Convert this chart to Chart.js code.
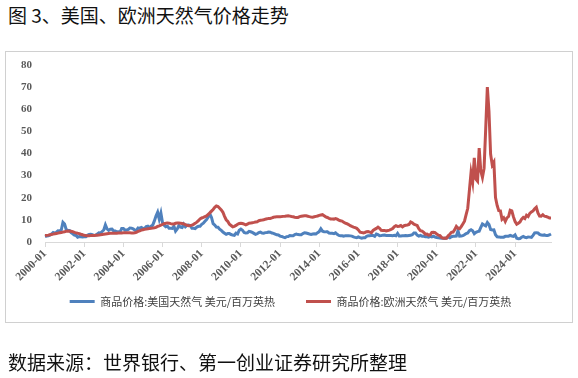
<!DOCTYPE html>
<html lang="zh-CN">
<head>
<meta charset="utf-8">
<title>图 3、美国、欧洲天然气价格走势</title>
<script src="https://cdn.jsdelivr.net/npm/chart.js@4.4.1/dist/chart.umd.min.js"></script>
<style>
    html, body { margin: 0; padding: 0; background: #fff; }
    body { width: 578px; height: 378px; position: relative; overflow: hidden; font-family: "Noto Sans CJK SC", sans-serif; color: #111; }
    .title { position: absolute; left: 8px; top: 5px; font-size: 19px; line-height: 20px; white-space: nowrap; }
    .source { position: absolute; left: 8px; top: 352px; font-size: 19px; line-height: 20px; white-space: nowrap; }
    .frame { position: absolute; left: 5px; top: 51px; width: 566px; height: 270px; border: 1px solid #d0d0d0; }
    #gasChart { position: absolute; left: 0; top: 0; }
</style>
</head>
<body>
<div class="title">图 3、美国、欧洲天然气价格走势</div>
<div class="frame"></div>
<canvas id="gasChart" width="578" height="378"></canvas>
<div class="source">数据来源：世界银行、第一创业证券研究所整理</div>
<script>
// monthly, 2000-01 .. 2025-11
const startYear = 2000;
const labelStep = 24;
const yTicks = [0, 10, 20, 30, 40, 50, 60, 70, 80];
const seriesNames = ["商品价格:美国天然气 美元/百万英热", "商品价格:欧洲天然气 美元/百万英热"];

const usGas = [
    2.42, 2.66, 2.79, 3.04, 3.59, 4.29, 3.99, 4.43, 5.06, 5.02, 5.52, 8.90,   // 2000
    8.17, 5.61, 5.23, 5.19, 4.19, 3.72, 3.11, 2.97, 2.19, 2.46, 2.34, 2.30,   // 2001
    2.32, 2.32, 3.03, 3.43, 3.50, 3.26, 2.99, 3.09, 3.55, 4.13, 4.04, 4.74,   // 2002
    5.43, 7.71, 5.93, 5.26, 5.81, 5.82, 5.03, 4.99, 4.62, 4.63, 4.47, 6.13,   // 2003
    6.14, 5.37, 5.39, 5.71, 6.33, 6.27, 5.93, 5.41, 5.15, 6.35, 6.17, 6.58,   // 2004
    6.15, 6.14, 6.96, 7.16, 6.47, 7.18, 7.63, 9.53, 11.75, 13.42, 10.30, 13.05, // 2005
    8.69, 7.54, 6.89, 7.16, 6.25, 6.21, 6.17, 7.14, 4.90, 5.85, 7.41, 6.73,   // 2006
    6.55, 8.00, 6.90, 7.55, 7.64, 7.35, 6.21, 6.24, 6.08, 6.74, 7.10, 7.11,   // 2007
    7.99, 8.54, 9.41, 10.18, 11.27, 12.69, 11.09, 8.26, 7.67, 6.74, 6.68, 5.82, // 2008
    5.24, 4.52, 4.00, 3.50, 3.83, 3.80, 3.38, 3.14, 2.99, 4.01, 3.66, 5.35,   // 2009
    5.83, 5.32, 4.29, 4.03, 4.14, 4.80, 4.63, 4.32, 3.89, 3.43, 3.71, 4.25,   // 2010
    4.49, 4.09, 3.97, 4.24, 4.31, 4.54, 4.42, 4.06, 3.90, 3.57, 3.24, 3.17,   // 2011
    2.67, 2.50, 2.17, 1.95, 2.43, 2.46, 2.95, 2.84, 2.85, 3.32, 3.54, 3.34,   // 2012
    3.33, 3.33, 3.81, 4.17, 4.04, 3.83, 3.62, 3.43, 3.62, 3.68, 3.64, 4.24,   // 2013
    4.71, 6.00, 4.90, 4.66, 4.58, 4.59, 4.05, 3.91, 3.92, 3.78, 4.12, 3.48,   // 2014
    2.99, 2.87, 2.83, 2.61, 2.85, 2.78, 2.84, 2.77, 2.66, 2.34, 2.09, 1.93,   // 2015
    2.28, 1.99, 1.73, 1.92, 1.92, 2.59, 2.82, 2.82, 2.99, 2.98, 2.55, 3.58,   // 2016
    3.30, 2.85, 2.88, 3.10, 3.15, 2.98, 2.98, 2.90, 2.98, 2.88, 3.01, 2.82,   // 2017
    3.87, 2.67, 2.69, 2.80, 2.80, 2.97, 2.83, 2.96, 3.00, 3.28, 4.09, 4.04,   // 2018
    3.11, 2.69, 2.95, 2.65, 2.64, 2.40, 2.37, 2.22, 2.56, 2.33, 2.65, 2.22,   // 2019
    2.02, 1.91, 1.79, 1.74, 1.75, 1.63, 1.77, 2.30, 1.92, 2.39, 2.61, 2.59,   // 2020
    2.67, 5.13, 2.62, 2.66, 2.91, 3.26, 3.84, 4.07, 5.16, 5.51, 5.05, 3.76,   // 2021
    4.38, 4.69, 4.90, 6.60, 8.14, 7.70, 7.28, 8.80, 7.88, 5.66, 5.45, 5.53,   // 2022
    3.27, 2.38, 2.31, 2.16, 2.15, 2.18, 2.55, 2.58, 2.64, 2.98, 2.71, 2.52,   // 2023
    3.18, 1.72, 1.49, 1.60, 2.12, 2.53, 2.08, 1.99, 2.28, 2.20, 2.12, 3.01,   // 2024
    4.13, 4.18, 4.12, 3.42, 3.12, 3.02, 3.20, 2.91, 2.97, 3.19, 3.60          // 2025
];

const euGas = [
    2.90, 3.00, 3.10, 3.25, 3.40, 3.55, 3.70, 3.85, 4.00, 4.15, 4.30, 4.45,   // 2000
    4.60, 4.88, 4.93, 4.89, 4.82, 4.66, 4.36, 4.15, 3.94, 3.79, 3.52, 3.27,   // 2001
    3.06, 2.91, 2.86, 2.87, 2.89, 2.93, 2.96, 3.05, 3.10, 3.17, 3.27, 3.39,   // 2002
    3.50, 3.62, 3.74, 3.87, 3.92, 3.93, 3.96, 3.99, 3.99, 4.03, 4.05, 4.08,   // 2003
    4.13, 4.14, 4.19, 4.17, 4.13, 4.10, 4.09, 4.21, 4.41, 4.78, 5.07, 5.36,   // 2004
    5.55, 5.72, 5.81, 5.98, 6.08, 6.23, 6.33, 6.46, 6.62, 7.03, 7.33, 7.67,   // 2005
    7.94, 8.29, 8.44, 8.63, 8.51, 8.29, 8.11, 8.17, 8.46, 8.61, 8.55, 8.47,   // 2006
    8.37, 8.17, 7.83, 7.57, 7.40, 7.43, 7.63, 7.96, 8.43, 8.97, 9.62, 10.47,  // 2007
    10.86, 11.13, 11.49, 11.80, 12.47, 13.12, 13.95, 14.72, 15.65, 16.27, 16.05, 15.27, // 2008
    14.48, 13.44, 11.60, 10.05, 9.28, 8.03, 7.44, 6.87, 7.07, 7.49, 8.03, 8.35, // 2009
    8.47, 8.35, 8.03, 7.72, 8.10, 8.48, 8.54, 8.71, 8.87, 9.06, 9.18, 9.60,   // 2010
    9.79, 9.92, 10.07, 10.31, 10.47, 10.67, 10.66, 10.89, 11.17, 11.35, 11.39, 11.39, // 2011
    11.44, 11.50, 11.58, 11.67, 11.79, 11.82, 11.70, 11.52, 11.39, 11.20, 11.08, 11.12, // 2012
    11.47, 11.64, 11.78, 11.88, 11.82, 11.67, 11.47, 11.34, 11.23, 11.40, 11.58, 11.75, // 2013
    12.04, 12.21, 12.34, 11.88, 11.37, 11.08, 10.70, 10.41, 10.37, 10.34, 10.61, 10.35, // 2014
    9.91, 9.56, 9.44, 8.96, 8.50, 8.25, 7.90, 7.40, 7.04, 6.75, 6.48, 6.18,   // 2015
    5.44, 4.45, 4.33, 4.14, 4.31, 4.65, 4.71, 4.49, 4.21, 5.23, 5.72, 6.15,   // 2016
    6.70, 6.15, 5.27, 5.18, 5.23, 4.99, 5.18, 5.39, 5.69, 6.08, 6.92, 7.38,   // 2017
    7.04, 7.15, 7.45, 6.84, 7.38, 7.55, 7.68, 7.89, 9.08, 8.69, 8.04, 7.78,   // 2018
    7.47, 6.02, 5.14, 4.95, 4.33, 3.55, 3.58, 3.12, 3.19, 4.30, 4.39, 4.21,   // 2019
    3.58, 3.06, 2.87, 2.03, 1.67, 1.78, 1.76, 2.80, 3.52, 4.38, 4.51, 5.55,   // 2020
    7.03, 6.20, 6.00, 6.94, 8.17, 9.42, 12.32, 15.25, 23.38, 31.33, 27.13, 38.00, // 2021
    28.38, 27.46, 42.45, 32.06, 29.15, 33.25, 51.23, 70.04, 59.11, 39.68, 34.84, 36.08, // 2022
    20.04, 16.52, 14.15, 14.08, 10.28, 10.97, 9.30, 10.86, 11.51, 14.37, 14.07, 11.34, // 2023
    9.22, 8.07, 8.51, 9.08, 10.35, 11.11, 10.58, 12.11, 11.57, 12.94, 13.58, 14.05, // 2024
    15.01, 15.68, 13.16, 11.76, 11.69, 12.34, 11.65, 11.51, 11.20, 10.90, 10.90     // 2025
];

const months = [];
for (let i = 0; i < usGas.length; i++) {
    const y = startYear + Math.floor(i / 12);
    const m = (i % 12) + 1;
    months.push(y + "-" + (m < 10 ? "0" + m : m));
}

// nudge the legend to the right so it sits centred under the whole frame
const legendShift = {
    id: "legendShift",
    afterLayout: function (chart) {
        chart.legend.left += 15;
        chart.legend.right += 15;
    }
};

document.addEventListener("DOMContentLoaded", function () {
    const ctx = document.getElementById("gasChart").getContext("2d");
    const serif = "'Liberation Serif', 'Times New Roman', serif";

    new Chart(ctx, {
        type: "line",
        data: {
            labels: months,
            datasets: [
                {
                    label: seriesNames[0],
                    data: usGas,
                    borderColor: "#4F81BD",
                    backgroundColor: "#4F81BD",
                    borderWidth: 3,
                    pointRadius: 0,
                    pointStyle: "line",
                    tension: 0,
                    order: 1
                },
                {
                    label: seriesNames[1],
                    data: euGas,
                    borderColor: "#C0504D",
                    backgroundColor: "#C0504D",
                    borderWidth: 3,
                    pointRadius: 0,
                    pointStyle: "line",
                    tension: 0,
                    order: 0
                }
            ]
        },
        plugins: [legendShift],
        options: {
            responsive: false,
            animation: false,
            layout: { padding: { left: 0, right: 27, top: 65, bottom: 61 } },
            plugins: {
                tooltip: { enabled: false },
                legend: {
                    position: "bottom",
                    labels: {
                        usePointStyle: true,
                        pointStyle: "line",
                        pointStyleWidth: 25,
                        padding: 9,
                        color: "#404040",
                        font: { family: "'Noto Sans CJK SC', sans-serif", size: 11 },
                        generateLabels: function (chart) {
                            const items = Chart.defaults.plugins.legend.labels.generateLabels(chart);
                            items.forEach(function (item) {
                                if (item.datasetIndex === 0) item.text += "\u3000\u3000";
                            });
                            return items;
                        },
                        sort: function (a, b) { return a.datasetIndex - b.datasetIndex; }
                    }
                }
            },
            scales: {
                x: {
                    grid: { display: true, drawOnChartArea: false, drawTicks: true, tickLength: 5, color: "#d9d9d9" },
                    border: { display: true, color: "#d9d9d9", width: 1 },
                    ticks: {
                        autoSkip: false,
                        minRotation: 45,
                        maxRotation: 45,
                        padding: 0,
                        color: "#595959",
                        font: { family: serif, size: 11.5, weight: "bold" },
                        callback: function (value, index) {
                            return index % labelStep === 0 ? months[index] : null;
                        }
                    },
                    afterFit: function (scale) { scale.height = 45; }
                },
                y: {
                    min: yTicks[0],
                    max: yTicks[yTicks.length - 1],
                    grid: { display: false, drawTicks: false },
                    border: { display: false },
                    ticks: {
                        stepSize: yTicks[1] - yTicks[0],
                        padding: 13,
                        color: "#595959",
                        font: { family: serif, size: 11, weight: "bold" }
                    },
                    afterFit: function (scale) { scale.width = 45; }
                }
            }
        }
    });
});
</script>
</body>
</html>
